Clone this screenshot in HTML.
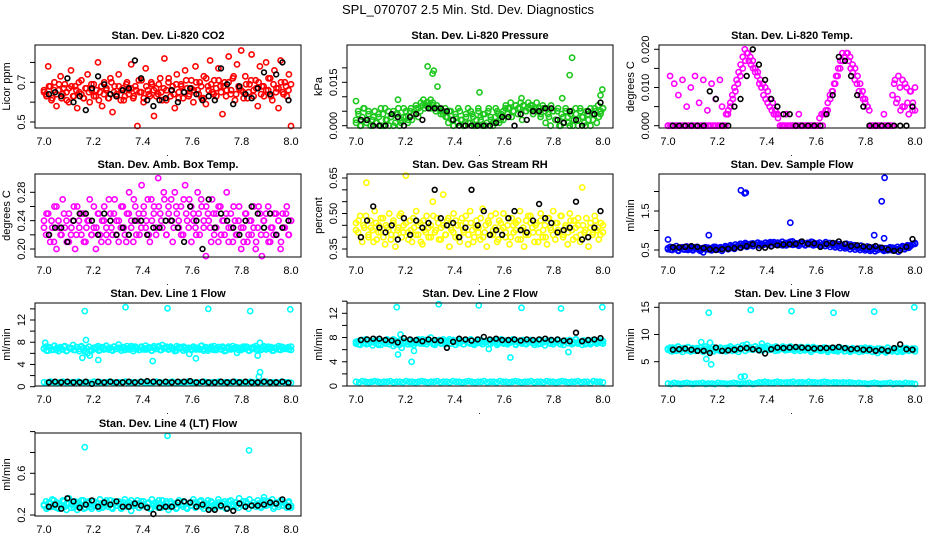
<!DOCTYPE html>
<html><head><meta charset="utf-8">
<style>
html,body{margin:0;padding:0;background:#fff;}
svg{display:block;font-family:"Liberation Sans",sans-serif;}
</style></head>
<body>
<svg id="chart" width="936" height="540" viewBox="0 0 936 540">
<rect width="936" height="540" fill="#fff"/>
<text x="468" y="14" text-anchor="middle" font-size="13">SPL_070707  2.5 Min. Std. Dev. Diagnostics</text>
</svg>
<script>
// ---------- data ----------
const co2Red=[0.66,0.64,0.78,0.68,0.62,0.70,0.58,0.66,0.73,0.64,0.69,0.61,0.67,0.76,0.63,0.68,0.57,0.65,0.71,0.62,
0.67,0.74,0.60,0.66,0.69,0.63,0.80,0.65,0.58,0.70,0.66,0.62,0.72,0.55,0.68,0.64,0.74,0.61,0.67,0.63,
0.70,0.66,0.79,0.62,0.68,0.48,0.65,0.71,0.60,0.77,0.66,0.63,0.69,0.53,0.67,0.64,0.72,0.61,0.82,0.66,
0.70,0.63,0.68,0.57,0.74,0.65,0.69,0.62,0.76,0.67,0.64,0.71,0.60,0.78,0.66,0.70,0.62,0.73,0.59,0.68,
0.81,0.65,0.71,0.63,0.77,0.68,0.54,0.70,0.66,0.83,0.64,0.72,0.61,0.79,0.67,0.86,0.65,0.73,0.62,0.69,
0.84,0.66,0.71,0.58,0.78,0.68,0.63,0.80,0.66,0.72,0.61,0.76,0.67,0.57,0.81,0.65,0.70,0.63,0.74,0.48];
const co2Red2=[0.65,0.63,0.68,0.61,0.66,0.64,0.69,0.62,0.67,0.65,0.60,0.68,0.63,0.66,0.70,0.64,0.62,0.67,0.65,0.69,
0.63,0.66,0.61,0.68,0.64,0.67,0.62,0.70,0.65,0.63,0.68,0.66,0.61,0.69,0.64,0.67,0.63,0.66,0.71,0.65,
0.62,0.68,0.64,0.70,0.66,0.63,0.69,0.65,0.67,0.61,0.72,0.66,0.64,0.69,0.62,0.68,0.65,0.71,0.63,0.67,
0.66,0.70,0.64,0.68,0.62,0.72,0.66,0.69,0.64,0.67,0.71,0.65,0.68,0.63,0.70,0.66,0.73,0.64,0.68,0.66,
0.62,0.69,0.65,0.71,0.63,0.67,0.70,0.64,0.68,0.66,0.72,0.63,0.69,0.65,0.67,0.70,0.64,0.68,0.66,0.69];
const co2Black=[0.64,0.65,0.63,0.72,0.60,0.63,0.56,0.67,0.73,0.69,0.64,0.63,0.66,0.67,0.81,0.72,0.61,0.58,0.61,0.62,
0.66,0.60,0.65,0.67,0.64,0.61,0.63,0.61,0.77,0.69,0.59,0.68,0.64,0.62,0.67,0.75,0.64,0.74,0.80,0.61];

const presGreen=[0.002,0.005,0.000,0.003,0.006,0.001,0.004,0.000,0.002,0.005,0.001,0.003,0.000,0.004,0.006,0.002,0.000,0.003,0.005,0.001,0.004,0.000,0.002,0.006,0.003,0.001,0.005,0.002,0.004,0.006,0.003,
0.005,0.007,0.006,0.008,0.007,0.009,0.008,0.006,0.007,0.006,0.005,0.004,0.006,0.003,0.005,
0.002,0.000,0.004,0.001,0.005,0.002,0.000,0.003,0.006,0.001,0.004,0.000,0.002,0.005,0.003,0.000,0.004,0.001,0.006,0.002,0.000,0.003,0.005,0.001,0.004,0.002,0.006,
0.004,0.006,0.003,0.005,0.007,0.004,0.006,0.002,0.007,0.005,0.008,0.006,0.007,0.005,0.008,0.006,0.004,0.007,0.005,0.006,0.003,0.007,0.005,
0.002,0.005,0.000,0.004,0.001,0.006,0.003,0.000,0.005,0.002,0.004,0.000,0.006,0.003,0.001,0.005,0.002,0.000,0.004,0.006,0.001,0.003,0.005,0.006];
const presGreen2=[0.001,0.004,0.000,0.006,0.002,0.005,0.000,0.003,0.001,0.004,0.006,0.000,0.002,0.005,0.003,0.000,0.004,0.006,0.001,0.003,0.005,0.002,0.006,0.004,0.007,
0.006,0.008,0.009,0.007,0.008,0.006,0.007,0.005,0.006,0.004,0.005,0.003,
0.001,0.005,0.000,0.003,0.006,0.002,0.000,0.004,0.001,0.005,0.003,0.000,0.006,0.002,0.004,0.000,0.005,0.003,0.001,0.006,0.004,0.002,
0.005,0.007,0.006,0.008,0.005,0.007,0.006,0.008,0.007,0.005,0.006,0.007,0.004,0.006,0.005,0.003,0.006,
0.001,0.004,0.000,0.005,0.002,0.006,0.000,0.003,0.005,0.001,0.004,0.000,0.006,0.002,0.005,0.003,0.000,0.004,0.006,0.002,0.005,0.007,0.004,0.006];
const presOutX=[7.0,7.17,7.29,7.31,7.315,7.33,7.5,7.67,7.835,7.865,7.875,7.99,7.997];
const presOutY=[0.0085,0.009,0.0205,0.0180,0.0190,0.0135,0.0115,0.0095,0.0095,0.0175,0.0235,0.0105,0.0125];
const presBlack=[0.002,0.002,0.000,0.000,0.000,0.004,0.003,0.000,0.003,0.004,0.002,0.006,0.006,0.006,0.005,0.002,0.000,0.000,0.000,0.000,
0.000,0.000,0.001,0.003,0.003,0.000,0.004,0.002,0.005,0.005,0.006,0.006,0.002,0.001,0.005,0.002,0.000,0.005,0.004,0.008];

const tempMag=[0,0.013,0,0.011,0,0.008,0,0.012,0,0.005,0,0.010,0,0.013,0,0.006,0,0.012,0,0.004,0,0.011,0,0.007,0,0.012,0.005,
0,0.003,0.004,0.006,0.008,0.010,0.012,0.014,0.016,0.018,0.020,0.019,0.017,0.016,0.015,0.014,0.013,0.011,0.010,0.008,0.007,0.006,0.005,0.004,0.003,0.003,0.002,
0,0,0,0.003,0,0,0,0,0,0.003,0,0,0,0,0,0,0,0,0,0.002,0.003,0.003,0.004,
0.006,0.008,0.009,0.011,0.013,0.015,0.017,0.019,0.018,0.019,0.017,0.015,0.014,0.012,0.011,0.009,0.008,0.007,0.006,0.005,0.004,
0,0,0,0,0,0,0.003,0,0,0,0,0.011,0.006,0.013,0.004,0.012,0.005,0.010,0.003,0.009,0.006,0.004];
const tempMag2=[0,0,0,0,0,0,0,0,0,0,0,0,0,0,0,0,0,0,0,0,0,0,0,0,
0.003,0.005,0.007,0.009,0.011,0.013,0.015,0.017,0.019,0.018,0.017,0.015,0.014,0.012,0.011,0.010,0.009,0.007,0.006,0.004,0.003,
0,0,0,0,0,0,0,0,0,0,0,0,0,0,0,0,0,0,
0.003,0.004,0.007,0.009,0.011,0.013,0.015,0.017,0.018,0.019,0.018,0.016,0.015,0.013,0.011,0.009,0.007,0.005,
0,0,0,0,0,0,0,0,0,0.008,0.012,0.007,0.010,0.005,0.011,0.006,0.009,0.004,0.010];
const tempBlack=[0,0,0,0,0,0,0.009,0.007,0,0,0.005,0.007,0.013,0.020,0.016,0.012,0.007,0.005,0.003,0.003,
0,0,0,0,0,0.003,0.008,0.018,0.017,0.013,0.008,0.005,0,0,0,0,0,0,0,0.005];

const ambMag=[0.24,0.22,0.25,0.21,0.23,0.26,0.20,0.24,0.22,0.27,0.23,0.21,0.25,0.22,0.24,0.20,0.26,0.23,0.22,0.25,
0.21,0.24,0.27,0.22,0.23,0.20,0.25,0.22,0.24,0.26,0.23,0.21,0.25,0.22,0.27,0.24,0.21,0.23,0.26,0.22,
0.25,0.28,0.23,0.21,0.26,0.24,0.22,0.29,0.25,0.23,0.27,0.21,0.24,0.26,0.22,0.30,0.25,0.23,0.27,0.22,
0.26,0.24,0.21,0.28,0.25,0.23,0.26,0.22,0.29,0.24,0.27,0.21,0.25,0.23,0.28,0.22,0.26,0.24,0.19,0.25,
0.23,0.27,0.22,0.25,0.21,0.26,0.24,0.22,0.28,0.23,0.25,0.21,0.24,0.22,0.26,0.20,0.23,0.25,0.21,0.24,
0.22,0.26,0.20,0.23,0.25,0.19,0.24,0.22,0.26,0.21,0.23,0.25,0.22,0.24,0.20,0.25,0.23,0.26,0.22,0.24];
const ambMag2=[0.23,0.25,0.22,0.24,0.21,0.26,0.23,0.22,0.25,0.24,0.21,0.23,0.26,0.22,0.24,0.25,0.21,0.23,0.24,0.22,
0.26,0.23,0.25,0.21,0.24,0.22,0.27,0.23,0.25,0.22,0.24,0.26,0.23,0.21,0.25,0.24,0.27,0.22,0.25,0.23,
0.26,0.24,0.22,0.27,0.25,0.23,0.26,0.24,0.28,0.22,0.25,0.27,0.23,0.26,0.24,0.22,0.27,0.25,0.23,0.26,
0.24,0.22,0.25,0.27,0.23,0.26,0.24,0.21,0.25,0.23,0.26,0.22,0.24,0.25,0.21,0.23,0.26,0.22,0.24,0.23,
0.21,0.25,0.22,0.24,0.23,0.21,0.26,0.22,0.24,0.25,0.21,0.23,0.22,0.25,0.24,0.21,0.23,0.25,0.22,0.24];
const ambBlack=[0.22,0.23,0.23,0.21,0.24,0.25,0.25,0.24,0.22,0.25,0.24,0.22,0.23,0.22,0.24,0.24,0.22,0.23,0.23,0.24,
0.24,0.23,0.21,0.26,0.24,0.20,0.27,0.23,0.25,0.24,0.23,0.22,0.24,0.26,0.25,0.23,0.25,0.22,0.23,0.24];

const rhYellow=[0.46,0.42,0.49,0.38,0.44,0.63,0.40,0.47,0.43,0.51,0.39,0.45,0.42,0.48,0.37,0.44,0.50,0.41,0.46,0.36,
0.43,0.49,0.40,0.45,0.66,0.42,0.47,0.38,0.44,0.51,0.41,0.46,0.37,0.43,0.49,0.40,0.45,0.55,0.42,0.48,
0.39,0.44,0.58,0.41,0.47,0.36,0.43,0.50,0.40,0.45,0.38,0.48,0.42,0.46,0.37,0.51,0.43,0.40,0.47,0.44,
0.39,0.52,0.42,0.36,0.46,0.49,0.41,0.44,0.38,0.47,0.43,0.50,0.40,0.45,0.37,0.48,0.42,0.46,0.39,0.51,
0.43,0.36,0.47,0.41,0.49,0.44,0.38,0.46,0.42,0.50,0.40,0.45,0.37,0.48,0.43,0.51,0.39,0.46,0.42,0.49,
0.41,0.44,0.37,0.50,0.43,0.47,0.40,0.45,0.38,0.61,0.42,0.48,0.36,0.44,0.41,0.49,0.43,0.39,0.46,0.42];
const rhYellow2=[0.43,0.47,0.40,0.45,0.49,0.41,0.44,0.38,0.46,0.42,0.48,0.40,0.45,0.43,0.39,0.47,0.41,0.44,0.50,0.42,
0.46,0.39,0.43,0.48,0.41,0.45,0.38,0.47,0.42,0.44,0.40,0.49,0.43,0.46,0.39,0.45,0.41,0.48,0.44,0.42,
0.47,0.40,0.45,0.43,0.49,0.41,0.46,0.38,0.44,0.42,0.48,0.40,0.45,0.47,0.41,0.43,0.50,0.39,0.46,0.44,
0.42,0.48,0.40,0.45,0.43,0.47,0.39,0.44,0.41,0.49,0.46,0.42,0.45,0.38,0.47,0.43,0.40,0.48,0.44,0.41,
0.46,0.43,0.49,0.40,0.45,0.42,0.47,0.39,0.44,0.48,0.41,0.45,0.43,0.40,0.46,0.42,0.47,0.44,0.41,0.45];
const rhBlack=[0.40,0.47,0.53,0.44,0.42,0.45,0.39,0.48,0.41,0.47,0.44,0.46,0.60,0.48,0.45,0.46,0.40,0.44,0.60,0.45,
0.51,0.41,0.43,0.41,0.48,0.51,0.43,0.42,0.47,0.54,0.48,0.46,0.42,0.43,0.44,0.55,0.39,0.40,0.44,0.51];

const flowBlue=[0.52,0.58,0.50,0.55,0.60,0.48,0.54,0.57,0.51,0.59,0.53,0.56,0.49,0.55,0.58,0.50,0.54,0.44,0.57,0.52,
0.55,0.49,0.58,0.53,0.51,0.56,0.48,0.54,0.57,0.52,0.55,0.60,0.53,0.58,0.62,0.56,0.60,0.64,0.58,0.62,
0.66,0.60,0.64,0.68,0.62,0.66,0.63,0.69,0.64,0.67,0.61,0.70,0.65,0.68,0.63,0.71,0.66,0.62,0.69,0.65,
0.72,0.64,0.67,0.61,0.70,0.66,0.63,0.68,0.65,0.71,0.62,0.67,0.64,0.69,0.61,0.66,0.70,0.63,0.68,0.65,
0.62,0.67,0.60,0.65,0.63,0.58,0.66,0.61,0.64,0.57,0.62,0.59,0.55,0.61,0.57,0.53,0.59,0.55,0.51,0.57,
0.53,0.50,0.56,0.52,0.48,0.54,0.51,0.57,0.49,0.55,0.52,0.46,0.54,0.58,0.52,0.60,0.56,0.62,0.65,0.68];
const flowBlue2=[0.55,0.51,0.57,0.53,0.49,0.56,0.52,0.58,0.50,0.54,0.51,0.57,0.53,0.48,0.55,0.52,0.56,0.50,0.54,0.58,
0.53,0.57,0.55,0.60,0.57,0.62,0.59,0.64,0.61,0.66,0.63,0.68,0.65,0.62,0.67,0.64,0.69,0.66,0.63,0.68,
0.65,0.70,0.67,0.64,0.69,0.66,0.62,0.68,0.65,0.71,0.63,0.67,0.64,0.69,0.66,0.62,0.68,0.65,0.70,0.63,
0.66,0.61,0.64,0.60,0.63,0.58,0.62,0.57,0.60,0.55,0.59,0.54,0.57,0.52,0.56,0.51,0.55,0.50,0.54,0.49,
0.53,0.48,0.52,0.47,0.51,0.55,0.50,0.54,0.49,0.53,0.56,0.52,0.58,0.55,0.60,0.57,0.62,0.59,0.64,0.66];
const flowOutX=[7.0,7.165,7.295,7.31,7.315,7.495,7.835,7.865,7.875,7.877];
const flowOutY=[0.77,0.88,2.03,1.95,1.97,1.20,0.88,1.75,0.80,2.35];
const flowBlack=[0.57,0.57,0.58,0.60,0.58,0.55,0.52,0.50,0.52,0.53,0.55,0.56,0.60,0.65,0.55,0.56,0.59,0.62,0.64,0.65,
0.66,0.72,0.66,0.67,0.58,0.66,0.68,0.72,0.66,0.60,0.62,0.59,0.58,0.60,0.56,0.51,0.48,0.49,0.58,0.78];

const l1Main=[6.8,7.2,6.5,7.0,6.6,7.4,6.9,6.4,7.1,6.7,7.3,6.5,7.0,6.8,7.5,6.6,7.1,6.4,7.2,6.9,
6.3,6.0,5.6,6.5,7.0,6.8,7.3,6.6,7.1,6.9,7.4,6.7,7.0,6.5,7.2,6.8,7.6,6.9,7.1,6.6,
7.3,6.8,7.0,6.4,7.2,6.9,6.6,7.1,6.7,7.4,6.9,7.0,6.5,7.3,6.8,7.1,6.6,7.5,6.9,7.0,
6.7,7.2,6.8,6.4,7.3,6.9,7.1,6.5,7.0,6.8,5.9,6.6,7.2,6.9,7.0,6.7,7.4,6.8,7.1,6.5,
7.0,6.9,7.3,6.6,7.1,6.8,7.2,6.4,7.0,6.9,6.7,7.3,6.8,6.1,7.0,6.6,7.2,6.9,7.1,6.5,
7.0,6.8,7.3,6.6,7.9,6.9,7.1,6.7,7.2,6.8,6.5,7.0,6.9,7.3,6.6,7.1,6.8,7.0,6.7,7.2];
const l1Main2=[6.9,6.5,7.1,6.7,7.3,6.6,7.0,6.8,7.2,6.4,7.0,6.9,6.6,7.1,6.8,7.3,6.5,6.9,7.2,6.7,
6.8,7.1,6.5,7.0,6.7,7.3,6.9,6.6,7.2,6.8,7.0,6.5,7.1,6.9,6.7,7.3,6.8,7.0,6.6,7.2,
6.9,6.7,7.1,6.5,7.0,6.8,7.3,6.6,6.9,7.2,6.7,7.0,6.8,6.5,7.1,6.9,7.2,6.6,7.0,6.8,
7.1,6.7,6.9,7.3,6.5,7.0,6.8,7.2,6.6,6.9,7.1,6.7,7.0,6.5,7.2,6.8,6.9,7.1,6.6,7.0,
6.8,7.2,6.5,6.9,7.1,6.7,7.0,6.6,7.3,6.8,6.9,7.1,6.5,7.0,6.7,7.2,6.8,6.9,7.1,6.6];
const l1OutX=[7.005,7.165,7.17,7.33,7.5,7.665,7.835,7.997,7.155,7.22,7.44,7.615,7.865,7.87,7.875];
const l1OutY=[7.9,13.6,8.4,14.3,14.1,14.0,13.6,13.9,5.2,4.8,4.6,5.1,5.6,1.8,2.6];
const l1Low=[0.8,0.7,0.9,0.8,0.7,0.8,0.9,0.8,0.7,0.8,0.8,0.9,0.7,0.8,0.8,0.7,0.9,0.8,0.8,0.7,
0.8,0.9,0.8,0.7,0.8,0.8,0.9,0.7,0.8,0.8,0.7,0.9,0.8,0.8,0.7,0.8,0.9,0.8,0.7,0.8,
0.8,0.9,0.7,0.8,0.8,0.7,0.9,0.8,0.8,0.7,0.8,0.9,0.8,0.7,0.8,0.8,0.9,0.7,0.8,0.8,
0.7,0.9,0.8,0.8,0.7,0.8,0.9,0.8,0.7,0.8,0.8,0.9,0.7,0.8,0.8,0.7,0.9,0.8,0.8,0.7];
const l1Black=[0.8,0.9,0.8,0.9,0.8,0.8,0.9,0.5,0.9,0.8,0.9,0.8,0.8,0.9,0.8,0.9,1.0,0.9,0.8,0.9,
0.8,0.9,0.9,1.0,0.8,0.9,0.8,0.8,0.9,0.8,0.9,0.8,0.9,0.8,0.8,0.9,0.8,0.8,0.9,0.7];

const l2Main=[7.0,7.4,6.8,7.6,7.1,6.9,7.5,7.2,6.7,7.3,7.6,7.0,6.8,7.4,7.1,7.7,6.9,7.2,6.6,7.5,
7.3,6.8,6.3,7.0,7.4,6.9,7.6,7.1,6.8,7.3,7.5,7.0,7.7,7.2,6.9,7.4,8.0,7.1,6.8,7.3,
7.6,7.0,7.4,6.9,7.2,7.7,7.0,7.3,6.8,7.5,7.1,7.4,6.9,7.6,7.2,7.0,7.5,6.8,7.3,7.1,
7.6,6.9,7.2,7.4,6.1,7.0,7.5,7.3,6.8,7.2,7.7,7.0,7.4,6.9,7.1,7.6,7.3,6.8,7.2,7.5,
7.0,7.4,6.9,7.3,7.6,7.1,6.8,7.2,7.5,7.0,7.3,6.7,7.4,7.1,7.6,6.9,7.2,7.5,7.0,7.3,
6.8,7.4,7.1,7.6,6.9,7.2,7.7,7.0,7.3,6.8,7.5,7.1,7.4,6.9,7.2,7.6,7.0,7.3,7.1,7.4];
const l2Main2=[7.3,6.9,7.5,7.1,7.7,7.0,7.4,7.2,7.6,6.8,7.4,7.3,7.0,7.5,7.2,7.7,6.9,7.3,7.6,7.1,
7.2,7.5,6.9,7.4,7.1,7.7,7.3,7.0,7.6,7.2,7.4,6.9,7.5,7.3,7.1,7.7,7.2,7.4,7.0,7.6,
7.3,7.1,7.5,6.9,7.4,7.2,7.7,7.0,7.3,7.6,7.1,7.4,7.2,6.9,7.5,7.3,7.6,7.0,7.4,7.2,
7.5,7.1,7.3,7.7,6.9,7.4,7.2,7.6,7.0,7.3,7.5,7.1,7.4,6.9,7.6,7.2,7.3,7.5,7.0,7.4,
7.2,7.6,6.9,7.3,7.5,7.1,7.4,7.0,7.7,7.2,7.3,7.5,6.9,7.4,7.1,7.6,7.2,7.3,7.5,7.0];
const l2OutX=[7.165,7.17,7.18,7.225,7.235,7.335,7.497,7.625,7.67,7.83,7.86,7.997];
const l2OutY=[13.0,5.2,8.5,4.0,5.8,13.5,13.3,4.7,12.9,12.8,5.6,13.0];
const l2Low=[0.7,0.6,0.8,0.7,0.6,0.7,0.8,0.7,0.6,0.7,0.7,0.8,0.6,0.7,0.7,0.6,0.8,0.7,0.7,0.6,
0.7,0.8,0.7,0.6,0.7,0.7,0.8,0.6,0.7,0.7,0.6,0.8,0.7,0.7,0.6,0.7,0.8,0.7,0.6,0.7,
0.7,0.8,0.6,0.7,0.7,0.6,0.8,0.7,0.7,0.6,0.7,0.8,0.7,0.6,0.7,0.7,0.8,0.6,0.7,0.7,
0.6,0.8,0.7,0.7,0.6,0.7,0.8,0.7,0.6,0.7,0.7,0.8,0.6,0.7,0.7,0.5,0.8,0.7,0.7,0.6];
const l2Black=[7.6,7.7,7.8,7.8,7.6,7.5,7.2,7.9,7.7,7.6,7.4,7.7,7.6,7.5,6.3,7.3,7.8,7.7,7.5,7.7,
8.1,7.7,7.8,7.6,7.6,7.7,7.5,7.7,7.6,7.7,7.8,7.6,7.7,7.5,7.4,8.8,7.4,7.6,7.7,7.9];

const l3Main=[7.2,7.6,6.9,7.4,7.0,7.7,7.3,6.8,7.5,7.1,7.6,6.9,7.3,7.0,7.5,7.2,8.6,6.8,7.4,7.1,
7.0,7.3,6.9,7.5,7.2,7.0,7.4,7.1,6.9,7.6,7.3,7.0,7.5,7.2,6.8,7.4,8.0,7.7,8.2,7.3,
7.6,7.2,7.8,7.4,7.1,7.7,7.3,7.5,7.9,7.2,7.6,7.4,7.8,7.1,7.5,7.7,7.3,7.6,7.2,7.8,
7.4,7.0,7.6,7.3,7.7,7.5,7.1,7.6,7.4,6.8,7.7,7.2,7.5,7.3,7.0,7.6,7.4,7.1,7.5,7.2,
7.0,7.4,7.1,7.6,7.3,6.9,7.5,7.2,7.0,7.4,7.1,7.3,6.8,7.5,7.2,7.6,7.0,7.4,6.9,7.3,
7.1,6.6,7.4,7.0,7.2,6.7,7.5,7.1,6.9,7.3,7.0,7.4,7.2,6.8,7.1,7.5,7.0,7.3,7.1,7.4];
const l3Main2=[7.4,7.0,7.6,7.2,7.8,7.1,7.5,7.3,7.7,6.9,7.5,7.4,7.1,7.6,7.3,7.8,7.0,7.4,7.7,7.2,
7.3,7.6,7.0,7.5,7.2,7.8,7.4,7.1,7.7,7.3,7.5,7.0,7.6,7.4,7.2,7.8,7.3,7.5,7.1,7.7,
7.4,7.2,7.6,7.0,7.5,7.3,7.8,7.1,7.4,7.7,7.2,7.5,7.3,7.0,7.6,7.4,7.7,7.1,7.5,7.3,
7.4,7.0,7.2,7.6,6.8,7.3,7.1,7.5,6.9,7.2,7.4,7.0,7.3,6.8,7.5,7.1,7.2,7.4,6.9,7.3,
7.1,7.5,6.8,7.2,7.4,7.0,7.3,6.9,7.6,7.1,7.2,7.4,6.8,7.3,7.0,7.5,7.1,7.2,7.4,6.9];
const l3OutX=[7.165,7.17,7.155,7.175,7.295,7.31,7.335,7.5,7.67,7.835,7.997,7.38];
const l3OutY=[14.0,8.5,5.5,4.5,2.2,2.3,14.5,14.3,14.0,14.2,15.0,8.3];
const l3Low=[1.0,0.9,1.1,1.0,0.9,1.0,1.1,1.0,0.9,1.0,1.0,1.1,0.9,1.0,1.0,0.9,1.1,1.0,1.0,0.9,
1.0,1.1,1.0,0.9,1.0,1.0,1.1,0.9,1.0,1.2,1.2,1.3,1.2,1.1,1.2,1.3,1.2,1.1,1.2,1.2,
1.3,1.1,1.2,1.2,1.1,1.3,1.2,1.2,1.1,1.2,1.3,1.2,1.1,1.2,1.2,1.1,1.2,1.1,1.2,1.1,
1.0,1.1,1.0,1.0,0.9,1.0,1.1,1.0,0.9,1.0,1.0,1.1,0.9,1.0,1.0,0.9,1.1,1.0,1.0,0.9];
const l3Black=[7.2,7.3,7.4,7.2,7.0,7.0,6.6,7.6,7.0,7.1,7.2,7.4,7.5,7.3,7.1,6.5,7.3,7.6,7.5,7.6,
7.7,7.6,7.5,7.4,7.5,7.5,7.6,7.7,7.5,7.3,7.4,7.2,7.2,7.0,7.2,7.0,7.5,8.2,7.3,7.2];

const l4Main=[0.29,0.33,0.27,0.31,0.35,0.28,0.32,0.26,0.30,0.34,0.28,0.31,0.36,0.27,0.30,0.33,0.25,0.31,0.29,0.34,
0.27,0.32,0.30,0.26,0.33,0.29,0.31,0.35,0.27,0.30,0.32,0.28,0.34,0.26,0.31,0.29,0.33,0.27,0.30,0.35,
0.28,0.32,0.24,0.31,0.29,0.34,0.27,0.30,0.33,0.28,0.31,0.26,0.35,0.29,0.32,0.27,0.30,0.34,0.28,0.31,
0.25,0.33,0.29,0.31,0.27,0.34,0.30,0.28,0.32,0.26,0.31,0.29,0.35,0.27,0.30,0.33,0.28,0.31,0.29,0.34,
0.27,0.32,0.30,0.28,0.35,0.29,0.31,0.33,0.27,0.30,0.34,0.28,0.32,0.29,0.36,0.30,0.33,0.28,0.31,0.35,
0.29,0.32,0.30,0.34,0.28,0.31,0.37,0.29,0.33,0.30,0.35,0.28,0.32,0.30,0.34,0.29,0.31,0.27,0.33,0.29];
const l4Main2=[0.30,0.26,0.32,0.28,0.34,0.27,0.31,0.29,0.33,0.25,0.31,0.30,0.27,0.32,0.29,0.34,0.26,0.30,0.33,0.28,
0.29,0.32,0.26,0.31,0.28,0.34,0.30,0.27,0.33,0.29,0.31,0.26,0.32,0.30,0.28,0.34,0.29,0.31,0.27,0.33,
0.30,0.28,0.32,0.26,0.31,0.29,0.34,0.27,0.30,0.33,0.28,0.31,0.29,0.26,0.32,0.30,0.33,0.27,0.31,0.29,
0.32,0.28,0.30,0.34,0.26,0.31,0.29,0.33,0.27,0.30,0.32,0.28,0.31,0.26,0.33,0.29,0.30,0.32,0.27,0.31,
0.29,0.33,0.26,0.30,0.32,0.28,0.31,0.27,0.34,0.29,0.30,0.32,0.26,0.31,0.28,0.33,0.29,0.30,0.32,0.27];
const l4OutX=[7.165,7.5,7.83];
const l4OutY=[0.85,0.96,0.82];
const l4Black=[0.28,0.30,0.26,0.36,0.33,0.27,0.30,0.34,0.28,0.32,0.30,0.33,0.28,0.28,0.31,0.29,0.27,0.21,0.27,0.28,
0.28,0.32,0.33,0.32,0.28,0.30,0.25,0.25,0.29,0.26,0.24,0.31,0.28,0.29,0.29,0.30,0.32,0.31,0.35,0.28];

const xTickVals=[7.0,7.2,7.4,7.6,7.8,8.0];
const xTickLabels=["7.0","7.2","7.4","7.6","7.8","8.0"];

// ---------- drawing ----------
const NS="http://www.w3.org/2000/svg";
const svg=document.getElementById('chart');
const rowTops=[45,174,303,433];
function mk(tag,attrs,parent){const e=document.createElementNS(NS,tag);for(const k in attrs)e.setAttribute(k,attrs[k]);(parent||svg).appendChild(e);return e;}
function evenX(n,a,b){const r=[];for(let i=0;i<n;i++)r.push(a+(b-a)*i/(n-1));return r;}

const panels=[
 {id:'co2',col:0,row:0,title:'Stan. Dev. Li-820 CO2',ylab:'Licor ppm',v1:0.5,p1:122,v2:0.7,p2:82.3,
  ticks:[0.5,0.6,0.7,0.8],labels:['0.5','','0.7',''],
  series:[{ys:co2Red,c:'#ff0000'},{ys:co2Red2,c:'#ff0000'},{ys:co2Black,c:'#000',black:true}]},
 {id:'pressure',col:1,row:0,title:'Stan. Dev. Li-820 Pressure',ylab:'kPa',v1:0,p1:125.7,v2:0.015,p2:82.3,
  ticks:[0,0.005,0.010,0.015,0.020],labels:['0.000','','','0.015',''],
  series:[{ys:presGreen,c:'#1ec81e'},{ys:presGreen2,c:'#1ec81e'},{xs:presOutX,ys:presOutY,c:'#1ec81e'},{ys:presBlack,c:'#000',black:true}]},
 {id:'temp',col:2,row:0,title:'Stan. Dev. Li-820 Temp.',ylab:'degrees C',v1:0,p1:125.7,v2:0.020,p2:49.3,
  ticks:[0,0.005,0.010,0.015,0.020],labels:['0.000','','0.010','','0.020'],
  series:[{ys:tempMag,c:'#ff00ff'},{ys:tempMag2,c:'#ff00ff'},{ys:tempBlack,c:'#000',black:true}]},
 {id:'amb-box-temp',col:0,row:1,title:'Stan. Dev. Amb. Box Temp.',ylab:'degrees C',v1:0.20,p1:249,v2:0.28,p2:192.3,
  ticks:[0.20,0.22,0.24,0.26,0.28],labels:['0.20','','0.24','','0.28'],
  series:[{ys:ambMag,c:'#ff00ff'},{ys:ambMag2,c:'#ff00ff'},{ys:ambBlack,c:'#000',black:true}]},
 {id:'gas-rh',col:1,row:1,title:'Stan. Dev. Gas Stream RH',ylab:'percent',v1:0.35,p1:249,v2:0.65,p2:178,
  ticks:[0.35,0.40,0.45,0.50,0.55,0.60,0.65],labels:['0.35','','','0.50','','','0.65'],
  series:[{ys:rhYellow,c:'#ffff00'},{ys:rhYellow2,c:'#ffff00'},{ys:rhBlack,c:'#000',black:true}]},
 {id:'sample-flow',col:2,row:1,title:'Stan. Dev. Sample Flow',ylab:'ml/min',v1:0.5,p1:250,v2:1.5,p2:211,
  ticks:[0.5,1.0,1.5,2.0],labels:['0.5','','1.5',''],
  series:[{ys:flowBlue,c:'#0000ff'},{ys:flowBlue2,c:'#0000ff'},{xs:flowOutX,ys:flowOutY,c:'#0000ff'},{ys:flowBlack,c:'#000',black:true}]},
 {id:'line1-flow',col:0,row:2,title:'Stan. Dev. Line 1 Flow',ylab:'ml/min',v1:0,p1:386.7,v2:12,p2:320,
  ticks:[0,2,4,6,8,10,12,14],labels:['0','','4','','8','','12',''],
  series:[{ys:l1Main,c:'#00ffff'},{ys:l1Main2,c:'#00ffff'},{ys:l1Low,c:'#00ffff'},{xs:l1OutX,ys:l1OutY,c:'#00ffff'},{ys:l1Black,c:'#000',black:true}]},
 {id:'line2-flow',col:1,row:2,title:'Stan. Dev. Line 2 Flow',ylab:'ml/min',v1:0,p1:386,v2:12,p2:313.3,
  ticks:[0,2,4,6,8,10,12,14],labels:['0','','4','','8','','12',''],
  series:[{ys:l2Main,c:'#00ffff'},{ys:l2Main2,c:'#00ffff'},{ys:l2Low,c:'#00ffff'},{xs:l2OutX,ys:l2OutY,c:'#00ffff'},{ys:l2Black,c:'#000',black:true}]},
 {id:'line3-flow',col:2,row:2,title:'Stan. Dev. Line 3 Flow',ylab:'ml/min',v1:5,p1:361.7,v2:15,p2:307.3,
  ticks:[5,10,15],labels:['5','10','15'],
  series:[{ys:l3Main,c:'#00ffff'},{ys:l3Main2,c:'#00ffff'},{ys:l3Low,c:'#00ffff'},{xs:l3OutX,ys:l3OutY,c:'#00ffff'},{ys:l3Black,c:'#000',black:true}]},
 {id:'line4-flow',col:0,row:3,title:'Stan. Dev. Line 4 (LT) Flow',ylab:'ml/min',v1:0.2,p1:515,v2:0.6,p2:473.3,
  ticks:[0.2,0.4,0.6,0.8,1.0],labels:['0.2','','0.6','',''],
  series:[{ys:l4Main,c:'#00ffff'},{ys:l4Main2,c:'#00ffff'},{xs:l4OutX,ys:l4OutY,c:'#00ffff'},{ys:l4Black,c:'#000',black:true}]}
];

panels.forEach(p=>{
  const left=35+312*p.col, top=rowTops[p.row], W=266, H=83;
  const xS=v=>left+9+(v-7)*247;
  const yS=v=>p.p1+(v-p.v1)*(p.p2-p.p1)/(p.v2-p.v1);
  const g=mk('g',{});
  
  
  p.series.forEach((s,si)=>{
    const xs=s.xs||(s.black?evenX(s.ys.length,7.02,7.99):evenX(s.ys.length,7.0,8.0));
    const sg=mk('g',{fill:'none',stroke:s.c,'stroke-width':1.6},g);
    
    
    s.ys.forEach((v,i)=>{
      const c=mk('circle',{cx:xS(xs[i]).toFixed(1),cy:yS(v).toFixed(1),r:s.black?2.4:2.6},sg);
      
      
    });
  });
  const box=mk('rect',{x:left,y:top,width:W,height:H,fill:'none',stroke:'#000','stroke-width':1},g);
  
  
  const t=mk('text',{x:left+W/2,y:top-6,'text-anchor':'middle','font-size':11,'font-weight':'bold'},g);
  t.textContent=p.title;
  
  
  const ya=mk('g',{stroke:'#000','stroke-width':1},g);
  
  
  const yt=p.ticks.map(yS);
  mk('line',{x1:left,x2:left,y1:Math.min(...yt),y2:Math.max(...yt)},ya);
  p.ticks.forEach((tv,i)=>{
    const y=yS(tv);
    mk('line',{x1:left-5,x2:left,y1:y,y2:y},ya);
    if(p.labels[i]){
      const lb=mk('text',{x:0,y:0,transform:`translate(${left-10},${y}) rotate(-90)`,'text-anchor':'middle','font-size':11,stroke:'none',fill:'#000'},g);
      lb.textContent=p.labels[i];
      
      
    }
  });
  const yl=mk('text',{x:0,y:0,transform:`translate(${left-25},${top+H/2}) rotate(-90)`,'text-anchor':'middle','font-size':11},g);
  yl.textContent=p.ylab;
  
  
  xTickVals.forEach((xv,i)=>{
    const xl=mk('text',{x:xS(xv),y:top+H+17,'text-anchor':'middle','font-size':11},g);
    xl.textContent=xTickLabels[i];
    
    
  });
  const dot=mk('text',{x:xS(7.5),y:top+H+28,'text-anchor':'middle','font-size':9},g);
  dot.textContent='.';
  
  
});
</script>
</body></html>
